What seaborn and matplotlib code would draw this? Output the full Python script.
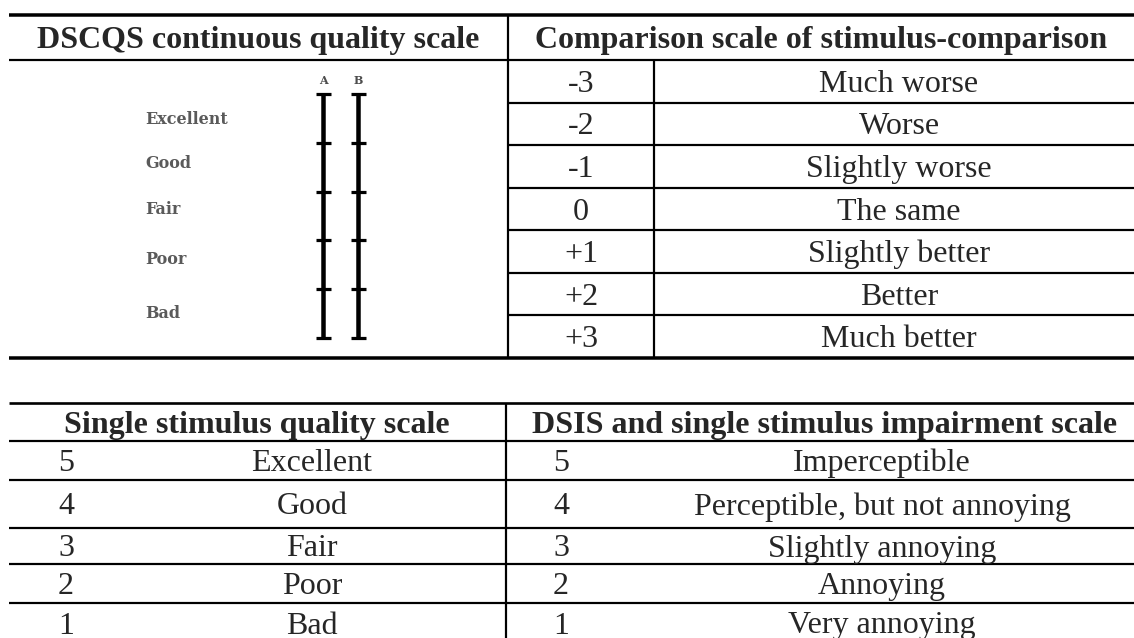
import numpy as np
import matplotlib
matplotlib.use("Agg")
import matplotlib.pyplot as plt
import seaborn as sns

# ---------------- data ----------------
dscqs_header = "DSCQS continuous quality scale"
dscqs_columns = ["A", "B"]
dscqs_labels = ["Excellent", "Good", "Fair", "Poor", "Bad"]

comparison_header = "Comparison scale of stimulus-comparison"
comparison_scores = ["-3", "-2", "-1", "0", "+1", "+2", "+3"]
comparison_labels = ["Much worse", "Worse", "Slightly worse", "The same",
                     "Slightly better", "Better", "Much better"]

quality_header = "Single stimulus quality scale"
quality_scores = ["5", "4", "3", "2", "1"]
quality_labels = ["Excellent", "Good", "Fair", "Poor", "Bad"]

impairment_header = "DSIS and single stimulus impairment scale"
impairment_scores = ["5", "4", "3", "2", "1"]
impairment_labels = ["Imperceptible", "Perceptible, but not annoying",
                     "Slightly annoying", "Annoying", "Very annoying"]

# ---------------- style ----------------
sns.set_theme(style="white")
plt.rcParams["font.family"] = ["Liberation Serif", "DejaVu Serif"]

W, H = 1134, 638
fig = plt.figure(figsize=(W / 100, H / 100), dpi=100)
ax = fig.add_axes([0, 0, 1, 1])
ax.set_xlim(0, W)
ax.set_ylim(H, 0)
ax.axis("off")

PX = 0.72  # points per pixel at dpi 100
thick = 3.5 * PX
thin = 2.2 * PX
FS = 23
BASE = 10.5  # baseline offset from row centre (px)

L, R = 9, W
# ---------- top table ----------
t_top, t_head = 15, 60
n_cmp = len(comparison_scores)
t_bot = 358
t_rows = np.linspace(t_head, t_bot, n_cmp + 1)
x_div, x_inner = 508, 654

ax.hlines(t_top, L, R, color="black", lw=thick)
ax.hlines(t_head, L, R, color="black", lw=thin)
ax.hlines(t_bot, L, R, color="black", lw=thick)
ax.hlines(t_rows[1:-1], x_div, R, color="black", lw=thin)
ax.vlines(x_div, t_top, t_bot, color="black", lw=thin)
ax.vlines(x_inner, t_head, t_bot, color="black", lw=thin)

hc = (t_top + t_head) / 2
ax.text((L + x_div) / 2, hc + BASE, dscqs_header, ha="center", va="baseline",
        fontsize=FS, fontweight="bold")
ax.text((x_div + R) / 2, hc + BASE, comparison_header, ha="center", va="baseline",
        fontsize=FS, fontweight="bold")
for i, (s, lab) in enumerate(zip(comparison_scores, comparison_labels)):
    c = (t_rows[i] + t_rows[i + 1]) / 2
    ax.text((x_div + x_inner) / 2, c + BASE, s, ha="center", va="baseline", fontsize=FS)
    ax.text(899, c + BASE, lab, ha="center", va="baseline", fontsize=FS)

# DSCQS scale graphic
bar_x = [323, 358]
ticks_y = np.linspace(94, 338, len(dscqs_labels) + 1)
label_y = [120, 164, 210, 260, 313]
gray = "#4d4d4d"
for bx, name in zip(bar_x, dscqs_columns):
    ax.vlines(bx, ticks_y[0], ticks_y[-1], color="black", lw=4.5 * PX)
    ax.hlines(ticks_y, bx - 7.5, bx + 7.5, color="black", lw=3.2 * PX)
    ax.text(bx, 84, name, ha="center", va="baseline", fontsize=8,
            family=["DejaVu Serif"], fontweight="bold", color=gray)
for y, lab in zip(label_y, dscqs_labels):
    ax.text(145, y, lab, ha="left", va="center", fontsize=11.5,
            family=["DejaVu Serif"], fontweight="bold", color="#5a5a5a")

# ---------- bottom table ----------
b_top, b_head = 403, 441
b_rows = [441, 480, 528, 564, 603, 643]
b_div = 506
ax.hlines(b_top, L, R, color="black", lw=thin * 1.2)
ax.hlines(b_rows[:-1], L, R, color="black", lw=thin)
ax.vlines(b_div, b_top, H + 5, color="black", lw=thin)

bh = (b_top + b_head) / 2
ax.text(257, bh + BASE, quality_header, ha="center", va="baseline",
        fontsize=FS, fontweight="bold")
ax.text(825, bh + BASE, impairment_header, ha="center", va="baseline",
        fontsize=FS, fontweight="bold")
for i in range(len(quality_scores)):
    c = (b_rows[i] + b_rows[i + 1]) / 2
    ax.text(66, c + BASE, quality_scores[i], ha="center", va="baseline", fontsize=FS)
    ax.text(312, c + BASE, quality_labels[i], ha="center", va="baseline", fontsize=FS)
    ax.text(561, c + BASE, impairment_scores[i], ha="center", va="baseline", fontsize=FS)
    ax.text(882, c + BASE, impairment_labels[i], ha="center", va="baseline", fontsize=FS)

fig.savefig("out.png", dpi=100, facecolor="white")
